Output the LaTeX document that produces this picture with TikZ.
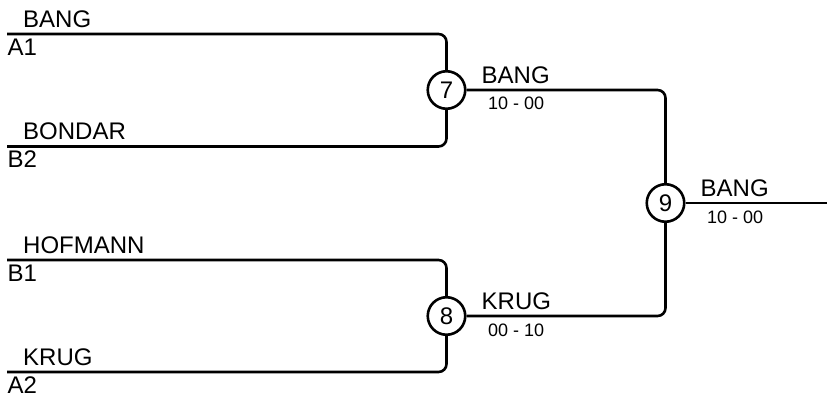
\documentclass[tikz,border=0pt]{standalone}
\usepackage{fontspec}
\setmainfont{Liberation Sans}
\begin{document}
\begin{tikzpicture}[x=1pt,y=-1pt,
  conn/.style={line width=2.6pt,rounded corners=8pt},
  matchcirc/.style={circle,draw,line width=2.6pt,minimum size=37.5pt,inner sep=0pt,font=\fontsize{24}{27}\selectfont},
  plabel/.style={anchor=base west,inner sep=0pt,font=\fontsize{24}{27}\selectfont},
  slabel/.style={anchor=base west,inner sep=0pt,font=\fontsize{18}{21}\selectfont}]
\useasboundingbox (0,0) rectangle (827,398);
% matches
\node[matchcirc] (m7) at (446.5,90) {7};
\node[matchcirc] (m8) at (446.5,316) {8};
\node[matchcirc] (m9) at (665.5,203) {9};
% start points
\coordinate (s1) at (7,34);
\coordinate (s2) at (7,146.5);
\coordinate (s3) at (7,260);
\coordinate (s4) at (7,372);
\coordinate (out) at (827,203);
% lines
\draw[conn] (s1) -| (m7);
\draw[conn] (s2) -| (m7);
\draw[conn] (s3) -| (m8);
\draw[conn] (s4) -| (m8);
\draw[conn] (m7) -| (m9);
\draw[conn] (m8) -| (m9);
\draw[conn] (m9) -- (out);
% competitor labels
\node[plabel] (n1) at (23,27.5) {BANG};
\node[plabel] (d1) at (7.5,55.5) {A1};
\node[plabel] (n2) at (23,140) {BONDAR};
\node[plabel] (d2) at (7.5,168) {B2};
\node[plabel] (n3) at (23,253.5) {HOFMANN};
\node[plabel] (d3) at (7.5,281.5) {B1};
\node[plabel] (n4) at (23,365.5) {KRUG};
\node[plabel] (d4) at (7.5,393.5) {A2};
% winners
\node[plabel] (w7) at (481.5,83.3) {BANG};
\node[slabel] (r7) at (488,110) {10 - 00};
\node[plabel] (w8) at (481.5,309.5) {KRUG};
\node[slabel] (r8) at (488,336) {00 - 10};
\node[plabel] (w9) at (700.5,196.5) {BANG};
\node[slabel] (r9) at (707,223) {10 - 00};
\end{tikzpicture}
\end{document}
